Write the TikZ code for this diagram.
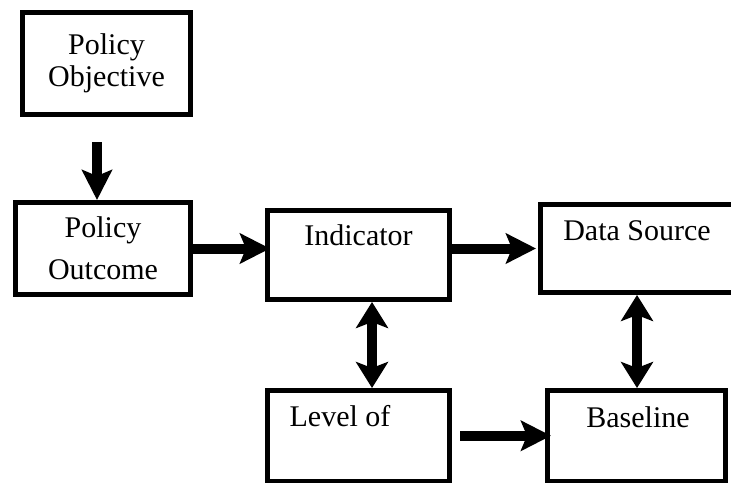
\documentclass[tikz,border=0pt]{standalone}
\usepackage{fontspec}
\setmainfont{Liberation Serif}
\usetikzlibrary{arrows.meta,positioning}
\tikzset{
  blk/.style={draw=black,line width=2.5pt,fill=white,inner sep=0pt},
  lbl/.style={anchor=base,inner sep=0pt},
  arrow/.style={-{Stealth[length=15pt,width=15pt,inset=3pt]},line width=5pt,draw=black},
  dblArrow/.style={{Stealth[length=13pt,width=16pt,inset=3pt]}-{Stealth[length=13pt,width=16pt,inset=3pt]},line width=5pt,draw=black}
}
\begin{document}
\begin{tikzpicture}[x=0.5pt,y=-0.5pt,font=\fontsize{15}{18}\selectfont]
  \useasboundingbox (0,0) rectangle (731,482);
  \node[blk,minimum width=84pt,minimum height=51pt,align=center] (obj) at (106.5,63.5) {Policy\\[-2pt]Objective};
  \node[blk,minimum width=87.5pt,minimum height=46pt,align=center] (outc) at (103,248.5) {Policy\\[3pt]Outcome};
  \node[blk,minimum width=91pt,minimum height=44.5pt,label={[lbl,yshift=-18.75pt]north:Indicator}] (ind) at (358.5,255) {};
  \node[blk,minimum width=96.5pt,minimum height=44pt,label={[lbl,yshift=-19.25pt]north:Data Source}] (src) at (637,248.5) {};
  \node[blk,minimum width=91pt,minimum height=45.25pt,label={[lbl,xshift=-9.25pt,yshift=-19.25pt]north:Level of}] (lvl) at (358.5,435.75) {};
  \node[blk,minimum width=89pt,minimum height=45.25pt,label={[lbl,xshift=0.75pt,yshift=-19.75pt]north:Baseline}] (base) at (636.5,435.75) {};
  \draw[arrow] ([xshift=-4.75pt,yshift=-12.5pt]obj.south) -- ([xshift=-4.75pt]obj.south |- outc.north);
  \draw[arrow] (outc.east) -- ([xshift=2.5pt]outc.east -| ind.west);
  \draw[arrow] (ind.east |- src.west) -- ([xshift=-1pt]src.west);
  \draw[dblArrow] ([xshift=6.75pt]ind.south) -- ([xshift=6.75pt]lvl.north);
  \draw[dblArrow] (src.south) -- (src.south |- base.north);
  \draw[arrow] ([xshift=4pt]lvl.east) -- ([xshift=3pt]base.west);
\end{tikzpicture}
\end{document}
